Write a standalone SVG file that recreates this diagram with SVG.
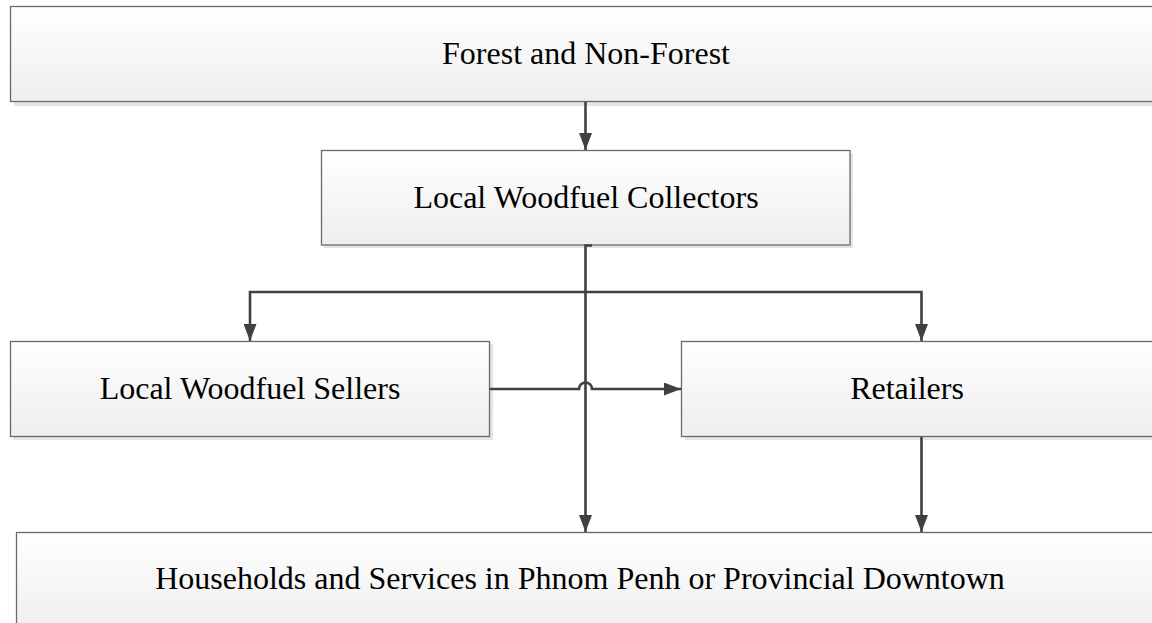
<svg xmlns="http://www.w3.org/2000/svg" width="1152" height="623" viewBox="0 0 1152 623">
<defs>
<linearGradient id="g" x1="0" y1="0" x2="0" y2="1">
<stop offset="0" stop-color="#ffffff"/>
<stop offset="1" stop-color="#eeeeee"/>
</linearGradient>
<marker id="arr" viewBox="0 0 17 13" refX="17" refY="6.5" markerWidth="17" markerHeight="13" markerUnits="userSpaceOnUse" orient="auto">
<path d="M0,0 L17,6.5 L0,13 Z" fill="#404040"/>
</marker>
<style>
.sh{fill:#e4e4e4}
.bx{fill:url(#g);stroke:#6a6a6a;stroke-width:1.3}
.tx{font-family:'Liberation Serif','DejaVu Serif',serif;font-size:32px;fill:#000;text-anchor:middle}
.cn{fill:none;stroke:#404040;stroke-width:2.6}
</style>
</defs>
<g id="forest">
<rect class="sh" x="14" y="10" width="1150" height="96"/>
<rect class="bx" x="10.5" y="6.5" width="1150" height="95"/>
<text class="tx" font-family="Liberation Serif, serif" x="586" y="64">Forest and Non-Forest</text>
</g>
<g id="collectors">
<rect class="sh" x="324" y="153" width="529" height="95"/>
<rect class="bx" x="321.5" y="150.5" width="528.5" height="94.5"/>
<text class="tx" font-family="Liberation Serif, serif" x="586" y="208">Local Woodfuel Collectors</text>
</g>
<g id="sellers">
<rect class="sh" x="13" y="344" width="480" height="96"/>
<rect class="bx" x="10.5" y="341.5" width="479" height="95"/>
<text class="tx" font-family="Liberation Serif, serif" x="250" y="399">Local Woodfuel Sellers</text>
</g>
<g id="retailers">
<rect class="sh" x="685" y="344" width="480" height="96"/>
<rect class="bx" x="681.5" y="341.5" width="480" height="95"/>
<text class="tx" font-family="Liberation Serif, serif" x="907" y="399">Retailers</text>
</g>
<g id="households">
<rect class="sh" x="19" y="535" width="1150" height="100"/>
<rect class="bx" x="16.5" y="532.5" width="1150" height="100"/>
<text class="tx" font-family="Liberation Serif, serif" x="580" y="589">Households and Services in Phnom Penh or Provincial Downtown</text>
</g>
<g id="connectors">
<path class="cn" d="M585.5,102 L585.5,150" marker-end="url(#arr)"/>
<path class="cn" d="M592,245.5 L585.5,245.5 L585.5,532" marker-end="url(#arr)"/>
<path class="cn" d="M585.5,292 L250,292 L250,341" marker-end="url(#arr)"/>
<path class="cn" d="M585.5,292 L921.5,292 L921.5,341" marker-end="url(#arr)"/>
<path class="cn" d="M490,389 L579,389 A6.5,6.5 0 0 1 592,389 L681,389" marker-end="url(#arr)"/>
<path class="cn" d="M921.5,437 L921.5,532" marker-end="url(#arr)"/>
</g>
</svg>
